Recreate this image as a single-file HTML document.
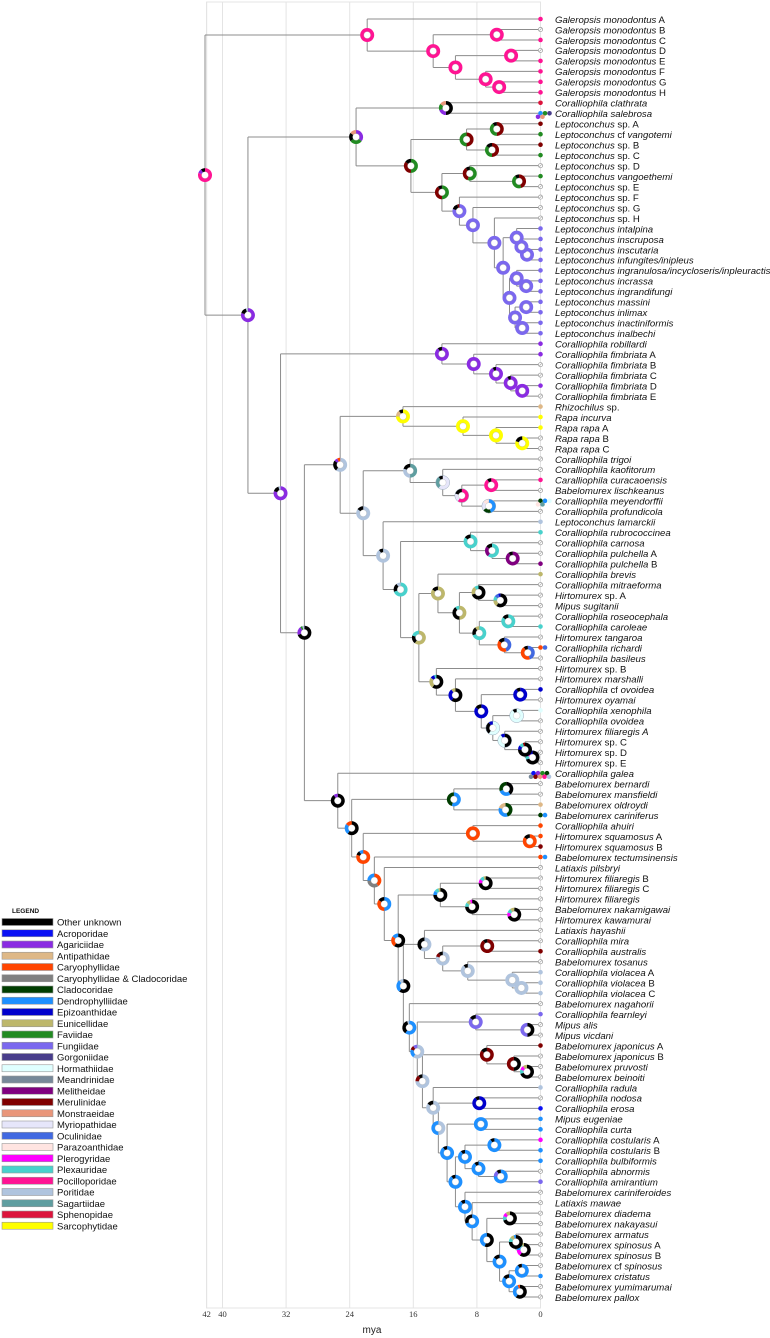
<!DOCTYPE html>
<html><head><meta charset="utf-8">
<style>
html,body{margin:0;padding:0;background:#fff;}
#wrap{position:relative;width:770px;height:1338px;overflow:hidden;font-family:"Liberation Sans",sans-serif;}
svg{position:absolute;left:0;top:0;}
</style></head>
<body>
<div id="wrap">
<svg id="chart" width="770" height="1338" viewBox="0 0 770 1338"></svg>
</div>
<script>
// ---------- data ----------
const axisTicks = [42, 40, 32, 24, 16, 8, 0];
const legendNames = ["Other unknown","Acroporidae","Agariciidae","Antipathidae","Caryophyllidae","Caryophyllidae & Cladocoridae","Cladocoridae","Dendrophylliidae","Epizoanthidae","Eunicellidae","Faviidae","Fungiidae","Gorgoniidae","Hormathiidae","Meandrinidae","Melitheidae","Merulinidae","Monstraeidae","Myriopathidae","Oculinidae","Parazoanthidae","Plerogyridae","Plexauridae","Pocilloporidae","Poritidae","Sagartiidae","Sphenopidae","Sarcophytidae"];
const legendKeys = ["K","AC","AG","AN","CA","CC","CL","DE","EP","EU","FA","FU","GO","HO","ME","ML","MU","MO","MY","OC","PZ","PL","PX","PO","PR","SA","SP","SR"];
const legendColors = ["#000000","#0a10f5","#8a2be2","#deb887","#ff4500","#808080","#003d00","#1e90ff","#0000cd","#bdb76b","#228b22","#7b68ee","#483d8b","#e0ffff","#778899","#800080","#800000","#e9967a","#e6e6fa","#4169e1","#ffe4e1","#ff00ff","#48d1cc","#ff1493","#b0c4de","#5f9ea0","#dc143c","#ffff00"];

const tipLabels = [
"Galeropsis monodontus| A|","Galeropsis monodontus| B|","Galeropsis monodontus| C|","Galeropsis monodontus| D|","Galeropsis monodontus| E|","Galeropsis monodontus| F|","Galeropsis monodontus| G|","Galeropsis monodontus| H|",
"Coralliophila clathrata","Coralliophila salebrosa",
"Leptoconchus| sp. A|","Leptoconchus| cf |vangotemi","Leptoconchus| sp. B|","Leptoconchus| sp. C|","Leptoconchus| sp. D|","Leptoconchus vangoethemi","Leptoconchus| sp. E|","Leptoconchus| sp. F|","Leptoconchus| sp. G|","Leptoconchus| sp. H|",
"Leptoconchus intalpina","Leptoconchus inscruposa","Leptoconchus inscutaria","Leptoconchus infungites/inipleus","Leptoconchus ingranulosa/incycloseris/inpleuractis","Leptoconchus incrassa","Leptoconchus ingrandifungi","Leptoconchus massini","Leptoconchus inlimax","Leptoconchus inactiniformis","Leptoconchus inalbechi",
"Coralliophila robillardi","Coralliophila fimbriata| A|","Coralliophila fimbriata| B|","Coralliophila fimbriata| C|","Coralliophila fimbriata| D|","Coralliophila fimbriata| E|",
"Rhizochilus| sp.|","Rapa incurva","Rapa rapa| A|","Rapa rapa| B|","Rapa rapa| C|",
"Coralliophila trigoi","Coralliophila kaofitorum","Caralliophila curacaoensis","Babelomurex lischkeanus","Coralliophila meyendorffii","Coralliophila profundicola",
"Leptoconchus lamarckii","Coralliophila rubrococcinea","Coralliophila carnosa","Coralliophila pulchella| A|","Coralliophila pulchella| B|","Coralliophila brevis","Coralliophila mitraeforma","Hirtomurex| sp. A|","Mipus sugitanii","Coralliophila roseocephala","Coralliophila caroleae","Hirtomurex tangaroa","Coralliophila richardi","Coralliophila basileus",
"Hirtomurex| sp. B|","Hirtomurex marshalli","Coralliophila| cf |ovoidea","Hirtomurex oyamai","Coralliophila xenophila","Coralliophila ovoidea","Hirtomurex filiaregis A","Hirtomurex| sp. C|","Hirtomurex| sp. D|","Hirtomurex| sp. E|",
"Coralliophila galea","Babelomurex bernardi","Babelomurex mansfieldi","Babelomurex oldroydi","Babelomurex cariniferus","Coralliophila ahuiri","Hirtomurex squamosus| A|","Hirtomurex squamosus| B|","Babelomurex tectumsinensis","Latiaxis pilsbryi",
"Hirtomurex filiaregis| B|","Hirtomurex filiaregis| C|","Hirtomurex filiaregis","Babelomurex nakamigawai","Hirtomurex kawamurai","Latiaxis hayashii","Coralliophila mira","Coralliophila australis","Babelomurex tosanus","Coralliophila violacea| A|","Coralliophila violacea| B|","Coralliophila violacea| C|",
"Babelomurex nagahorii","Coralliophila fearnleyi","Mipus alis","Mipus vicdani","Babelomurex japonicus| A|","Babelomurex japonicus| B|","Babelomurex pruvosti","Babelomurex beinoiti",
"Coralliophila radula","Coralliophila nodosa","Coralliophila erosa","Mipus eugeniae","Coralliophila curta","Coralliophila costularis| A|","Coralliophila costularis| B|","Coralliophila bulbiformis","Coralliophila abnormis","Coralliophila amirantium",
"Babelomurex cariniferoides","Latiaxis mawae","Babelomurex diadema","Babelomurex nakayasui","Babelomurex armatus","Babelomurex spinosus| A|","Babelomurex spinosus| B|","Babelomurex| cf |spinosus","Babelomurex cristatus","Babelomurex yumimarumai","Babelomurex pallox"];

const tipStates = [
"PO","","PO","","PO","PO","PO","PO",
"SP",[["DE","FA","GO"],["AG","MO"]],
"MU","FA","MU","FA","","FA","","","","",
"FU","FU","FU","FU","FU","FU","FU","FU","FU","FU","FU",
"AG","AG","","","AG","",
"AN","SR","SR","","",
"","","PO","",[["CL","DE","HO"],["PZ","SA"]],"",
"PR","PX","","","ML","EU","","","","","PX","",[["CA","OC"]],"",
"","","EP","","HO","","","","","",
[["AC","AG","FA","CL"],["ME","MU","MO","PO","PR"]],"","","AN",[["CL","DE"]],"CA","CA","MU",[["CA","DE"]],"",
"","","","","","","","MU","","PR","PR","PR",
"","FU","","","MU","","","",
"PR","","AC","DE","DE","PL","DE","DE","","FU",
"","","","","","","","","DE","",""];

function N(age, pie, a, b){ return {age:age, pie:pie, kids:[a,b]}; }

const tree =
N(42.2,"PO:.8,AG:.1,K:.1",
  N(21.8,"PO",0,
    N(13.5,"PO",
      N(5.5,"PO",1,2),
      N(10.7,"PO",
        N(3.7,"PO",3,4),
        N(6.9,"PO",5,N(5.2,"PO",6,7))
      )
    )
  ),
  N(36.8,"AG:.8,K:.15,PR:.05",
    N(23.2,"AG:.35,FA:.3,K:.2,MO:.15",
      N(11.9,"K:.5,AG:.2,FA:.15,MO:.15",8,9),
      N(16.3,"FA:.5,MU:.35,K:.15",
        N(9.3,"MU:.5,FA:.5",
          N(5.5,"MU:.5,FA:.4,K:.1",10,11),
          N(6.1,"MU:.5,FA:.35,K:.15",12,13)
        ),
        N(12.4,"FA:.5,MU:.4,K:.1",
          N(8.9,"FA:.55,MU:.35,K:.1",14,N(2.7,"MU:.45,FA:.45,K:.1",15,16)),
          N(10.2,"FU:.8,K:.15,MU:.05",17,
            N(8.5,"FU",18,
              N(5.8,"FU",19,
                N(4.7,"FU",
                  N(3.0,"FU",20,N(2.4,"FU",21,N(1.7,"FU",22,23))),
                  N(3.9,"FU",
                    N(3.0,"FU",24,N(1.8,"FU",25,26)),
                    N(3.2,"FU",N(1.8,"FU",27,28),N(2.3,"FU",29,30))
                  )
                )
              )
            )
          )
        )
      )
    ),
    N(32.7,"AG:.8,K:.15,PR:.05",
      N(12.4,"AG:.9,K:.1",31,N(8.4,"AG",32,N(5.6,"AG:.92,K:.08",33,N(3.75,"AG:.92,K:.08",34,N(2.3,"AG",35,36))))),
      N(29.7,"K:.7,AG:.2,FA:.05,PR:.05",
        N(25.2,"PR:.6,K:.25,AG:.08,CA:.07",
          N(17.3,"SR:.75,AN:.15,K:.1",37,N(9.75,"SR",38,N(5.6,"SR",39,N(2.3,"SR:.8,K:.2",40,41)))),
          N(22.3,"PR:.85,K:.15",
            N(16.4,"SA:.5,PR:.3,K:.2",42,
              N(12.3,"MY:.6,SA:.3,K:.1",43,
                N(9.9,"PO:.6,MY:.2,K:.2",
                  N(6.2,"PO:.9,K:.1",44,45),
                  N(6.5,"DE:.45,CL:.2,MY:.2,PZ:.15",46,47)
                )
              )
            ),
            N(19.8,"PR:.9,K:.1",48,
              N(17.6,"PX:.7,K:.2,PR:.1",
                N(8.8,"PX:.85,K:.15",49,N(6.1,"PX:.6,ML:.25,K:.15",50,N(3.5,"ML:.9,K:.1",51,52))),
                N(15.3,"EU:.6,K:.2,PX:.2",
                  N(12.9,"EU:.85,K:.15",53,
                    N(10.2,"EU:.5,K:.4,PX:.1",
                      N(7.8,"K:.7,EU:.2,PX:.1",54,N(5.05,"K:.6,EU:.15,PX:.1,OC:.1,EP:.05",55,56)),
                      N(7.7,"PX:.7,K:.2,EU:.1",
                        N(4.05,"PX:.85,K:.15",57,58),
                        N(4.55,"OC:.45,CA:.4,K:.15",59,N(1.6,"OC:.45,CA:.45,K:.1",60,61))
                      )
                    )
                  ),
                  N(13.1,"K:.6,EU:.25,EP:.1,PX:.05",62,
                    N(10.7,"K:.6,EP:.3,EU:.1",63,
                      N(7.45,"EP:.85,K:.15",
                        N(2.55,"EP:.9,K:.1",64,65),
                        N(6.0,"HO:.6,K:.3,EP:.1",
                          N(3.0,"HO:.9,K:.1",66,67),
                          N(4.5,"K:.5,HO:.4,EP:.1",68,N(1.95,"K:.75,EP:.1,PX:.1,MU:.05",69,N(1.0,"K:.7,PX:.1,PL:.1,EP:.1",70,71)))
                        )
                      )
                    )
                  )
                )
              )
            )
          )
        ),
        N(25.5,"K:.9,AG:.1",72,
          N(23.75,"K:.6,DE:.25,CA:.15",
            N(10.9,"DE:.55,CL:.45",
              N(4.3,"K:.4,DE:.3,CL:.3",73,74),
              N(4.4,"CL:.45,DE:.35,AN:.2",75,76)
            ),
            N(22.3,"CA:.8,K:.1,DE:.1",
              N(8.5,"CA",77,N(1.35,"CA:.85,K:.15",78,79)),
              N(20.9,"CA:.4,CC:.35,DE:.25",80,
                N(19.65,"DE:.5,CA:.35,K:.15",81,
                  N(17.9,"K:.6,CA:.25,DE:.15",
                    N(12.6,"K:.75,DE:.1,PX:.1,EU:.05",
                      N(6.9,"K:.75,PL:.1,PX:.1,EU:.05",82,83),
                      N(8.6,"K:.75,PX:.1,EU:.1,PL:.05",84,N(3.3,"K:.7,PL:.1,PX:.1,EU:.1",85,86))
                    ),
                    N(17.25,"K:.6,DE:.3,PR:.1",
                      N(14.6,"PR:.6,K:.4",87,
                        N(12.3,"PR:.8,MU:.1,K:.1",
                          N(6.7,"MU:.9,K:.1",88,89),
                          N(9.15,"PR:.9,K:.1",90,N(3.55,"PR",91,N(2.4,"PR",92,93)))
                        )
                      ),
                      N(16.5,"DE:.6,K:.35,PR:.05",94,
                        N(15.5,"PR:.6,DE:.2,MU:.1,FU:.1",
                          N(8.15,"FU:.85,K:.15",95,N(1.65,"K:.5,FU:.5",96,97)),
                          N(14.85,"PR:.75,MU:.15,K:.1",
                            N(6.75,"MU:.85,K:.15",98,N(3.35,"K:.5,MU:.5",99,N(1.7,"K:.7,PX:.1,PL:.1,EU:.1",100,101))),
                            N(13.5,"PR:.85,K:.15",102,
                              N(12.85,"PR:.5,DE:.5",
                                N(7.7,"EP:.9,K:.1",103,104),
                                N(11.75,"DE:.9,K:.1",
                                  N(7.5,"DE",105,106),
                                  N(10.7,"DE:.9,K:.1",
                                    N(9.5,"DE:.9,K:.1",
                                      N(5.8,"DE:.9,K:.1",107,108),
                                      N(7.8,"DE:.9,K:.1",109,N(5.0,"DE:.75,FU:.15,K:.1",110,111))
                                    ),
                                    N(9.5,"DE:.9,K:.1",112,
                                      N(8.6,"DE:.7,K:.3",113,
                                        N(6.75,"K:.55,DE:.45",
                                          N(3.85,"K:.7,PX:.1,PL:.1,EU:.1",114,115),
                                          N(5.15,"DE:.85,K:.15",
                                            N(3.1,"K:.75,PX:.1,EU:.1,DE:.05",116,N(2.1,"K:.6,PL:.15,DE:.1,PX:.1,EU:.05",117,118)),
                                            N(3.95,"DE:.85,K:.15",
                                              N(2.35,"DE:.9,K:.1",119,120),
                                              N(2.6,"K:.6,DE:.35,CA:.05",121,122)
                                            )
                                          )
                                        )
                                      )
                                    )
                                  )
                                )
                              )
                            )
                          )
                        )
                      )
                    )
                  )
                )
              )
            )
          )
        )
      )
    )
  )
);

// ---------- rendering ----------
const NS = "http://www.w3.org/2000/svg";
const svg = document.getElementById("chart");
const X0 = 540.5, PXM = 7.95, Y0 = 19, DY = 10.475;
const xAge = a => X0 - PXM * a;
const yTip = i => Y0 + DY * i;
const col = {};
legendKeys.forEach((k, i) => col[k] = legendColors[i]);

function el(tag, attrs, parent){
  const e = document.createElementNS(NS, tag);
  for (const k in attrs) e.setAttribute(k, attrs[k]);
  (parent || svg).appendChild(e);
  return e;
}

const gGrid = el("g", {});


el("rect", {x: xAge(42), y: 2, width: X0 - xAge(42), height: 1306, fill: "none", stroke: "#e4e4e4", "stroke-width": 1}, gGrid);
axisTicks.forEach(t => {
  const l = el("line", {x1: xAge(t), x2: xAge(t), y1: 2, y2: 1308, stroke: "#e4e4e4", "stroke-width": 1}, gGrid);
  
  
  const tx = el("text", {x: xAge(t), y: 1317, "font-family": "Liberation Serif, serif", "font-size": 8.5, "text-anchor": "middle", fill: "#333"});
  tx.textContent = t;
  
  
});
const xt = el("text", {x: 372, y: 1333, "font-size": 10, "text-anchor": "middle", fill: "#222"});
xt.textContent = "mya";



const gLines = el("g", {stroke: "#8c8c8c", "stroke-width": 1, fill: "none"});


const nodesOut = [];
function place(n){
  if (typeof n === "number") return {x: X0, y: yTip(n)};
  const c = n.kids.map(place);
  const x = xAge(n.age), y = (c[0].y + c[1].y) / 2;
  const v = el("line", {x1: x, x2: x, y1: c[0].y, y2: c[1].y}, gLines);
  
  
  c.forEach(p => {
    const h = el("line", {x1: x, x2: p.x, y1: p.y, y2: p.y}, gLines);
    
    
  });
  nodesOut.push({x: x, y: y, pie: n.pie});
  return {x: x, y: y};
}
place(tree);

function parsePie(s){
  return s.split(",").map(p => { const q = p.split(":"); return [q[0], q.length > 1 ? parseFloat(q[1]) : 1]; });
}
const gPies = el("g", {});


nodesOut.forEach(nd => {
  const g = el("g", {}, gPies);
  
  
  const R = 7, parts = parsePie(nd.pie);
  const tot = parts.reduce((s, p) => s + p[1], 0);
  let a0 = -Math.PI / 2;
  parts.forEach(p => {
    const frac = p[1] / tot;
    if (frac >= 0.999) {
      el("circle", {cx: nd.x, cy: nd.y, r: R, fill: col[p[0]]}, g);
      return;
    }
    const a1 = a0 + frac * 2 * Math.PI;
    const large = frac > 0.5 ? 1 : 0;
    const d = `M${nd.x},${nd.y} L${nd.x + R*Math.cos(a0)},${nd.y + R*Math.sin(a0)} A${R},${R} 0 ${large} 1 ${nd.x + R*Math.cos(a1)},${nd.y + R*Math.sin(a1)} Z`;
    el("path", {d: d, fill: col[p[0]]}, g);
    a0 = a1;
  });
  if (parts.some(p => p[0] === "HO" || p[0] === "MY" || p[0] === "PZ")) {
    el("circle", {cx: nd.x, cy: nd.y, r: R, fill: "none", stroke: "#9ab", "stroke-width": 0.5}, g);
  }
  el("circle", {cx: nd.x, cy: nd.y, r: 3.4, fill: "#fff", stroke: "#aaa", "stroke-width": 0.3}, g);
});

const gTips = el("g", {});


tipStates.forEach((s, i) => {
  const y = yTip(i);
  if (Array.isArray(s)) {
    const start = s[0].length >= 4 ? X0 - 7 : X0;
    s.forEach((row, r) => row.forEach((k, j) => {
      const c = el("circle", {cx: start + j*4.5 - r*2.5, cy: y + r*3.5, r: 2.3, fill: col[k]}, gTips);
      
      
    }));
  } else if (s === "") {
    const c = el("circle", {cx: X0, cy: y, r: 2.1, fill: "#fff", stroke: "#999", "stroke-width": 0.7}, gTips);
    
    
    el("line", {x1: X0 - 1.3, y1: y + 1.3, x2: X0 + 1.3, y2: y - 1.3, stroke: "#999", "stroke-width": 0.6}, gTips);
  } else {
    const c = el("circle", {cx: X0, cy: y, r: 2.3, fill: col[s]}, gTips);
    
    
  }
  const t = el("text", {x: 555, y: y + 3.8, "font-size": 9.6, fill: "#111"});
  
  
  tipLabels[i].split("|").forEach((part, j) => {
    if (!part) return;
    const ts = el("tspan", {"font-style": j % 2 === 0 ? "italic" : "normal"}, t);
    ts.textContent = part;
  });
});

const gLeg = el("g", {});


const lt = el("text", {x: 12, y: 913, "font-size": 6.5, "font-weight": "bold", fill: "#111"}, gLeg);
lt.textContent = "LEGEND";


legendNames.forEach((nm, i) => {
  const y = 922 + i * 11.25;
  const g = el("g", {}, gLeg);
  
  
  el("rect", {x: 2, y: y - 3.5, width: 51, height: 7, fill: legendColors[i], stroke: "#999", "stroke-width": 0.6}, g);
  const t = el("text", {x: 57, y: y + 3.5, "font-size": 9.5, fill: "#111"}, g);
  t.textContent = nm;
});
</script>
</body></html>
